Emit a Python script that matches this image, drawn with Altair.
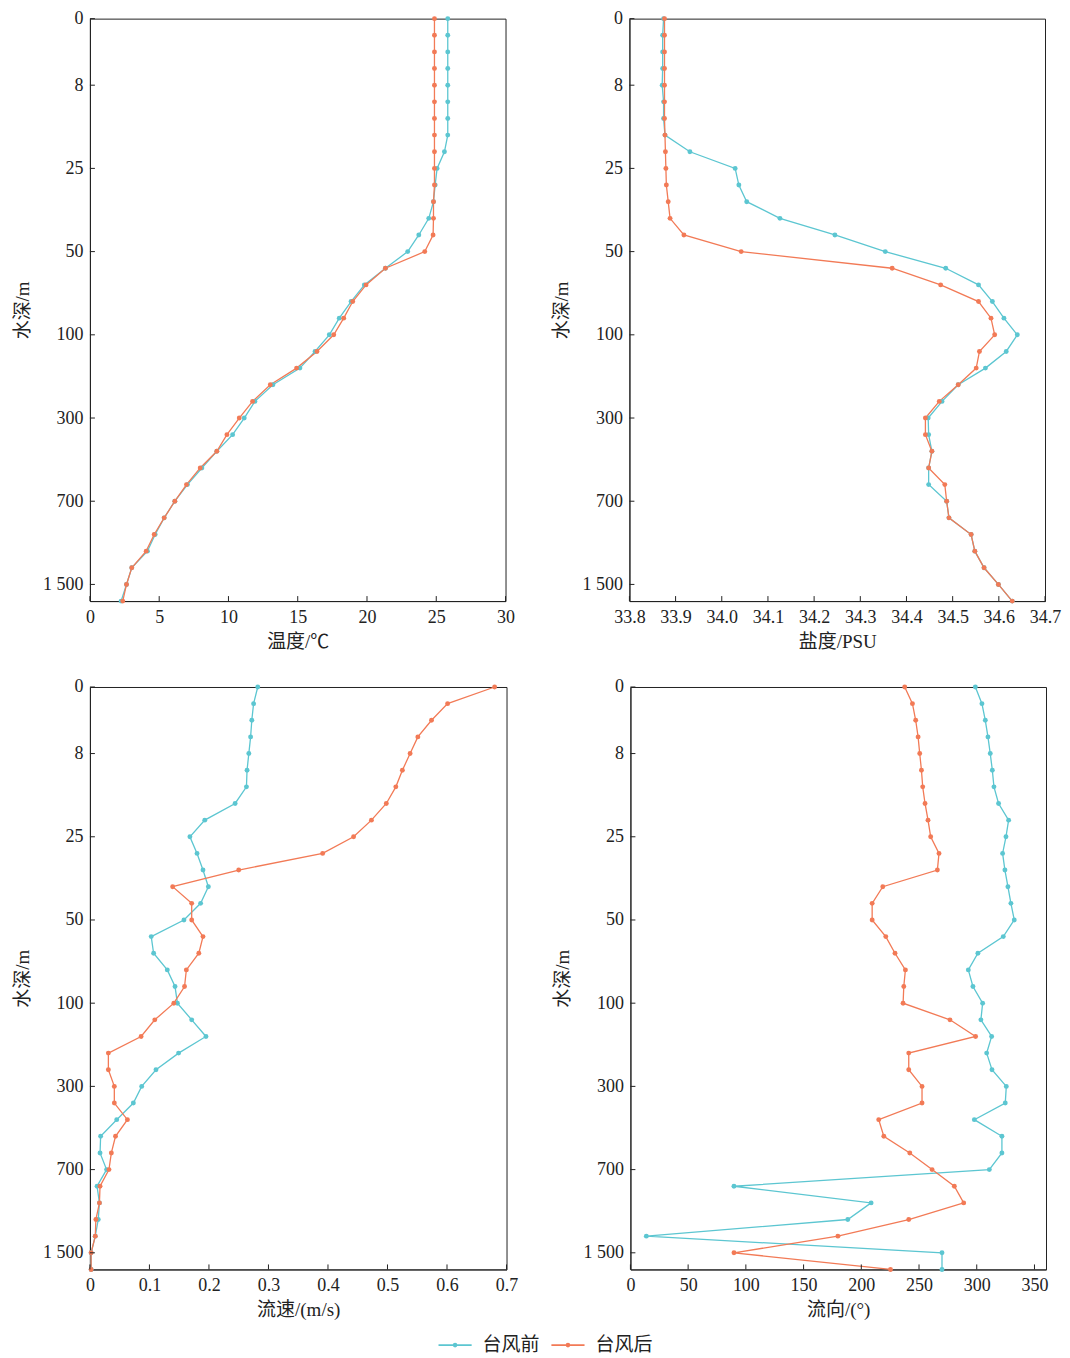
import altair as alt
import pandas as pd

# ---------------- data ----------------
levels = list(range(36))
depth_tick_idx = [0, 4, 9, 14, 19, 24, 29, 34]
depth_tick_labels = ["0", "8", "25", "50", "100", "300", "700", "1 500"]
series_names = ["台风前", "台风后"]

temp_before = [25.83, 25.83, 25.83, 25.83, 25.83, 25.83, 25.83, 25.83, 25.59, 25.06,
               24.92, 24.80, 24.46, 23.74, 22.94, 21.33, 19.81, 18.85, 18.00, 17.28,
               16.25, 15.16, 13.21, 11.91, 11.14, 10.30, 9.16, 8.08, 7.04, 6.13,
               5.36, 4.71, 4.15, 3.02, 2.64, 2.25]
temp_after = [24.87, 24.87, 24.87, 24.87, 24.87, 24.87, 24.87, 24.87, 24.87, 24.87,
              24.87, 24.80, 24.80, 24.77, 24.17, 21.33, 19.93, 18.97, 18.32, 17.60,
              16.39, 14.92, 13.02, 11.74, 10.78, 9.89, 9.16, 7.96, 6.97, 6.13,
              5.36, 4.64, 4.06, 3.02, 2.64, 2.37]

sal_before = [33.874, 33.872, 33.872, 33.872, 33.871, 33.874, 33.874, 33.877, 33.931, 34.029,
              34.037, 34.054, 34.126, 34.245, 34.354, 34.485, 34.556, 34.586, 34.611, 34.640,
              34.616, 34.571, 34.512, 34.477, 34.447, 34.448, 34.455, 34.448, 34.448, 34.487,
              34.492, 34.540, 34.548, 34.568, 34.599, 34.629]
sal_after = [33.876, 33.876, 33.876, 33.876, 33.876, 33.876, 33.876, 33.877, 33.878, 33.879,
             33.880, 33.884, 33.888, 33.918, 34.042, 34.369, 34.474, 34.556, 34.583, 34.591,
             34.558, 34.551, 34.512, 34.471, 34.441, 34.441, 34.455, 34.448, 34.483, 34.487,
             34.492, 34.540, 34.548, 34.568, 34.599, 34.629]

spd_before = [0.282, 0.275, 0.272, 0.270, 0.267, 0.264, 0.263, 0.244, 0.193, 0.168,
              0.180, 0.190, 0.199, 0.186, 0.158, 0.103, 0.107, 0.130, 0.143, 0.147,
              0.171, 0.195, 0.149, 0.111, 0.087, 0.073, 0.045, 0.018, 0.017, 0.028,
              0.012, 0.016, 0.014, 0.009, 0.002, 0.002]
spd_after = [0.680, 0.601, 0.574, 0.551, 0.538, 0.525, 0.514, 0.498, 0.473, 0.443,
             0.391, 0.250, 0.139, 0.171, 0.171, 0.190, 0.183, 0.162, 0.159, 0.141,
             0.109, 0.086, 0.031, 0.031, 0.041, 0.041, 0.063, 0.043, 0.036, 0.032,
             0.017, 0.016, 0.010, 0.009, 0.002, 0.002]

dir_before = [298.8, 304.5, 307.4, 309.7, 311.7, 313.5, 314.9, 318.9, 327.6, 325.3,
              322.4, 324.4, 327.0, 329.6, 332.5, 323.0, 301.0, 292.7, 296.7, 305.1,
              303.6, 312.9, 308.6, 313.2, 325.6, 324.7, 297.9, 321.8, 321.8, 310.9,
              89.7, 208.5, 188.3, 13.8, 269.9, 269.9]
dir_after = [237.6, 244.3, 247.1, 249.2, 250.6, 252.1, 253.2, 255.2, 257.8, 260.1,
             267.3, 265.9, 218.6, 209.4, 209.4, 221.2, 229.2, 238.2, 236.8, 236.2,
             276.8, 299.0, 241.1, 241.1, 252.6, 252.6, 215.1, 219.5, 242.0, 261.3,
             280.6, 288.7, 241.1, 179.7, 89.7, 225.3]

temp_ticks = [0, 5, 10, 15, 20, 25, 30]
sal_ticks = [33.8, 33.9, 34.0, 34.1, 34.2, 34.3, 34.4, 34.5, 34.6, 34.7]
spd_ticks = [0, 0.1, 0.2, 0.3, 0.4, 0.5, 0.6, 0.7]
dir_ticks = [0, 50, 100, 150, 200, 250, 300, 350]

# ---------------- style ----------------
W, H = 416, 583
C_BEFORE = "#5cc6d1"
C_AFTER = "#f27a56"
NUM_FONT = "Times New Roman, Liberation Serif, serif"
CJK_FONT = "Times New Roman, Liberation Serif, Noto Sans CJK SC, serif"
TXT = "#222222"

label_expr = " : ".join(
    f"datum.value == {i} ? '{l}'" for i, l in zip(depth_tick_idx, depth_tick_labels)
) + " : ''"

color_scale = alt.Scale(domain=series_names, range=[C_BEFORE, C_AFTER])
y_scale = alt.Scale(domain=[0, 35], reverse=True, nice=False, zero=False)


def panel(before, after, xtitle, xdomain, xticks, xfmt, w=W):
    df = pd.DataFrame({
        "idx": levels + levels,
        "value": before + after,
        "series": [series_names[0]] * len(levels) + [series_names[1]] * len(levels),
    })
    xs = alt.Scale(domain=xdomain, nice=False, zero=False)
    x_enc = alt.X("value:Q", scale=xs,
                  axis=alt.Axis(values=xticks, title=xtitle, format=xfmt, ticks=False,
                                labelPadding=7, titlePadding=6, grid=False,
                                domainColor="#222", labelFont=NUM_FONT, labelFontSize=18,
                                titleFont=CJK_FONT, titleFontSize=19, titleFontWeight="normal",
                                labelColor=TXT, titleColor=TXT, labelFlush=False))
    y_enc = alt.Y("idx:Q", scale=y_scale,
                  axis=alt.Axis(values=depth_tick_idx, labelExpr=label_expr, title="水深/m",
                                ticks=False, labelPadding=7, titlePadding=10, grid=False,
                                domainColor="#222", labelFont=NUM_FONT, labelFontSize=18,
                                titleFont=CJK_FONT, titleFontSize=19, titleFontWeight="normal",
                                labelColor=TXT, titleColor=TXT, labelFlush=False))
    color = alt.Color("series:N", scale=color_scale,
                      legend=alt.Legend(title=None, orient="none", direction="horizontal",
                                        legendX=348, legendY=1310,
                                        symbolType="M-1,0H1M-0.09,0A0.09,0.09 0 1 1 0.09,0A0.09,0.09 0 1 1 -0.09,0",
                                        symbolSize=1100, symbolStrokeWidth=1.6,
                                        labelFont=CJK_FONT, labelFontSize=19, labelColor=TXT,
                                        columnPadding=7, labelOffset=10))
    base = alt.Chart(df)
    line = base.mark_line(strokeWidth=1.3, clip=False).encode(
        x=x_enc, y=y_enc, color=color, detail="series:N", order="idx:Q")
    pts = base.mark_circle(size=24, opacity=1, clip=False).encode(
        x=alt.X("value:Q", scale=xs), y=alt.Y("idx:Q", scale=y_scale),
        color=alt.Color("series:N", scale=color_scale, legend=None))
    xt = alt.Chart(pd.DataFrame({"t": xticks})).mark_rule(color="#222", strokeWidth=1).encode(
        x=alt.X("t:Q", scale=xs), y=alt.value(H), y2=alt.value(H - 5))
    yt = alt.Chart(pd.DataFrame({"t": depth_tick_idx})).mark_rule(color="#222", strokeWidth=1).encode(
        y=alt.Y("t:Q", scale=y_scale), x=alt.value(0), x2=alt.value(5))
    return alt.layer(line, pts, xt, yt).properties(width=w, height=H)


tl = panel(temp_before, temp_after, "温度/℃", [0, 30], temp_ticks, "d")
tr = panel(sal_before, sal_after, "盐度/PSU", [33.8, 34.7], sal_ticks, ".1f")
bl = panel(spd_before, spd_after, "流速/(m/s)", [0, 0.7], spd_ticks, "~g", w=417)
br = panel(dir_before, dir_after, "流向/(°)", [0, 360], dir_ticks, "d")

chart = alt.vconcat(
    alt.hconcat(tl, tr, spacing=37),
    alt.hconcat(bl, br, spacing=35),
    spacing=25,
).resolve_scale(color="shared").configure(
    padding={"top": 0, "left": 5, "right": 0, "bottom": 0},
    background="white",
    view=alt.ViewConfig(stroke="#222", strokeWidth=1),
)

chart.save("out.html", embed_options={"renderer": "svg", "actions": False})
